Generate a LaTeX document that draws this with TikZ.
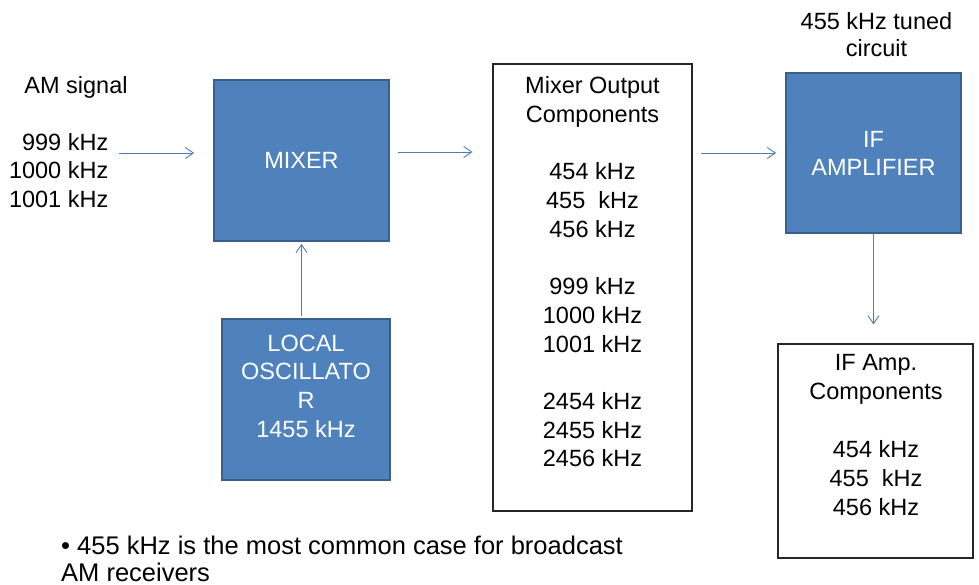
\documentclass[tikz,border=0pt]{standalone}
\usepackage{fontspec}
\setmainfont{Liberation Sans}
\usetikzlibrary{arrows.meta}
\definecolor{boxblue}{HTML}{4F81BD}
\definecolor{boxedge}{HTML}{3A5F8B}
\definecolor{sigblue}{HTML}{4A7EBB}
\begin{document}
\begin{tikzpicture}[x=1pt,y=-1pt,
  txt/.style={font=\fontsize{23.5}{28.7}\selectfont, inner sep=0pt, align=center},
  bluebox/.style={draw=boxedge, line width=1.8pt, fill=boxblue, text=white, inner sep=0pt,
    align=center, font=\fontsize{23.5}{28}\selectfont},
  whitebox/.style={draw=black!85, line width=1.1pt, fill=white, inner sep=0pt},
  sig/.style={draw=sigblue, line width=0.9pt, -{Straight Barb[length=8pt,width=11pt]}}]
\useasboundingbox (0,0) rectangle (979,585);
% blocks
\node[bluebox, minimum width=175pt, minimum height=161pt] (mixer) at (301.5,160.5) {MIXER};
\node[bluebox, minimum width=168pt, minimum height=161pt] (lo) at (306,399.5) {};
\node[txt, text=white, anchor=north] (lotext) at (306,334.6) {LOCAL\\OSCILLATO\\R\\1455 kHz};
\node[bluebox, minimum width=175pt, minimum height=160pt] (ifamp) at (873.5,153) {IF\\AMPLIFIER};
\node[whitebox, minimum width=199pt, minimum height=447pt] (out) at (592.5,287.5) {};
\node[txt, anchor=north] (outtext) at (592.5,76.6)
  {Mixer Output\\Components\\[28.7pt]454 kHz\\455\ \ kHz\\456 kHz\\[28.7pt]999 kHz\\1000 kHz\\1001 kHz\\[28.7pt]2454 kHz\\2455 kHz\\2456 kHz};
\node[whitebox, minimum width=195pt, minimum height=214pt] (comp) at (875.5,451) {};
\node[txt, anchor=north, font=\fontsize{23.5}{29}\selectfont] (comptext) at (876,354.6)
  {IF Amp.\\Components\\[29pt]454 kHz\\455\ \ kHz\\456 kHz};
% free texts
\node[txt, anchor=base] (amlabel) at (76,93.4) {AM signal};
\node[txt, anchor=north east, align=right] (amfreq) at (108.5,133) {999 kHz\\1000 kHz\\1001 kHz};
\node[txt, anchor=north, font=\fontsize{23.5}{27}\selectfont] (tuned) at (876.5,12.6) {455 kHz tuned\\circuit};
\node[txt, anchor=north west, align=left, font=\fontsize{25.5}{27}\selectfont] (note) at (61,535.5)
  {\textbullet\ 455 kHz is the most common case for broadcast\\AM receivers};
% connectors
\coordinate (amin) at (119,153);
\draw[sig, shorten >=19pt] (amin) -- (amin -| mixer.west);
\draw[sig, shorten <=8pt, shorten >=20pt] ([yshift=8.5pt]mixer.east) -- ([yshift=8.5pt]mixer.east -| out.west);
\draw[sig, shorten <=8pt, shorten >=9pt] (out.east |- ifamp.west) -- (ifamp.west);
\draw[sig, shorten <=2pt, shorten >=2pt] (lo.north -| mixer.south) -- (mixer.south);
\draw[sig, shorten >=19pt] (ifamp.south) -- (ifamp.south |- comp.north);
\end{tikzpicture}
\end{document}
